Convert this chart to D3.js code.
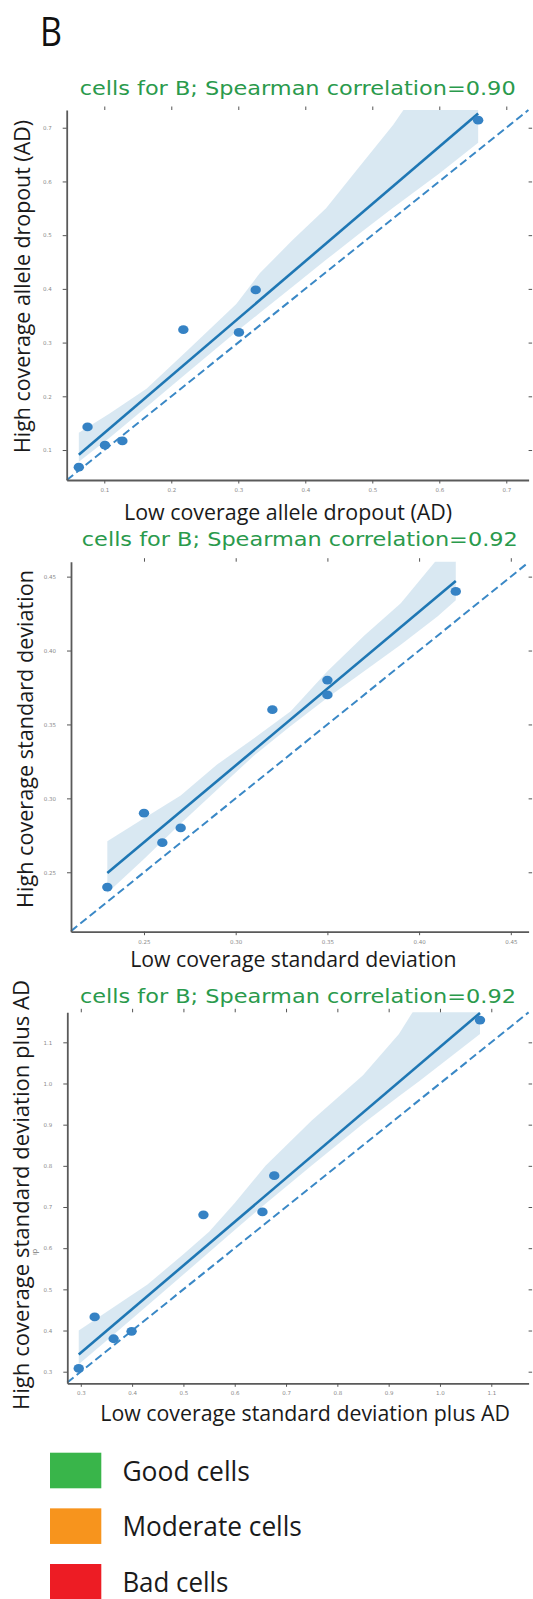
<!DOCTYPE html>
<html>
<head>
<meta charset="utf-8">
<script src="https://cdn.jsdelivr.net/npm/d3@7"></script>
<style>
  body { margin: 0; background: #fff; }
  svg { display: block; }
  .tick text { font-family: "DejaVu Sans", sans-serif; font-size: 5.5px; fill: #8a8a8a; }
  .tick line { stroke: #555; stroke-width: 1; }
  .domain { stroke: #5a5a5a; stroke-width: 1.8; }
</style>
</head>
<body>
<svg id="fig" width="533" height="1599"></svg>
<script>
/* Three low- vs high-coverage scatter panels (seaborn regplot look):
   points, OLS fit, bootstrap band, y=x dashed line. */

// ----- data -----
// panel 1: allele dropout
const p1X = [0.062, 0.075, 0.101, 0.127, 0.218, 0.301, 0.326, 0.658];
const p1Y = [0.068, 0.143, 0.109, 0.117, 0.324, 0.319, 0.398, 0.714];
const p1BandX  = [0.062, 0.108, 0.163, 0.222, 0.297, 0.332, 0.381, 0.431, 0.481, 0.531, 0.60, 0.658];
const p1BandHi = [0.132, 0.168, 0.214, 0.283, 0.372, 0.429, 0.491, 0.550, 0.628, 0.705, 0.83, 0.92];
const p1BandLo = [0.078, 0.123, 0.180, 0.242, 0.320, 0.355, 0.404, 0.454, 0.503, 0.551, 0.615, 0.672];
const p1Ticks = [0.1, 0.2, 0.3, 0.4, 0.5, 0.6, 0.7];

// panel 2: standard deviation
const p2X = [0.23, 0.25, 0.26, 0.27, 0.32, 0.35, 0.35, 0.42];
const p2Y = [0.24, 0.29, 0.27, 0.28, 0.36, 0.37, 0.38, 0.44];
const p2BandX  = [0.23, 0.25, 0.27, 0.29, 0.31, 0.33, 0.35, 0.37, 0.39, 0.41, 0.42];
const p2BandHi = [0.271, 0.2865, 0.302, 0.323, 0.3406, 0.359, 0.386, 0.410, 0.432, 0.462, 0.48];
const p2BandLo = [0.236, 0.259, 0.283, 0.306, 0.329, 0.349, 0.368, 0.386, 0.404, 0.423, 0.434];
const p2Ticks = [0.25, 0.30, 0.35, 0.40, 0.45];

// panel 3: standard deviation plus AD
const p3X = [0.296, 0.327, 0.364, 0.399, 0.539, 0.654, 0.677, 1.078];
const p3Y = [0.308, 0.433, 0.380, 0.398, 0.681, 0.688, 0.776, 1.154];
const p3BandX  = [0.296, 0.35, 0.43, 0.50, 0.55, 0.60, 0.66, 0.75, 0.85, 0.92, 0.96, 1.078];
const p3BandHi = [0.40, 0.445, 0.512, 0.585, 0.64, 0.71, 0.80, 0.91, 1.02, 1.12, 1.20, 1.35];
const p3BandLo = [0.318, 0.375, 0.461, 0.536, 0.590, 0.644, 0.708, 0.801, 0.902, 0.969, 1.006, 1.120];
const p3Ticks = [0.3, 0.4, 0.5, 0.6, 0.7, 0.8, 0.9, 1.0, 1.1];

const titles = [
  "cells for B; Spearman correlation=0.90",
  "cells for B; Spearman correlation=0.92",
  "cells for B; Spearman correlation=0.92",
];
const xLabels = [
  "Low coverage allele dropout (AD)",
  "Low coverage standard deviation",
  "Low coverage standard deviation plus AD",
];
const yLabels = [
  "High coverage allele dropout (AD)",
  "High coverage standard deviation",
  "High coverage standard deviation plus AD",
];
const legendLabels = ["Good cells", "Moderate cells", "Bad cells"];
const legendColors = ["#39b54a", "#f7941d", "#ed1c24"];

// ----- layout (px) -----
const panels = [
  { xs: p1X, ys: p1Y, bx: p1BandX, hi: p1BandHi, lo: p1BandLo, ticks: p1Ticks, fmt: ".1f",
    xDom: [0.0439, 0.7333], yDom: [0.0442, 0.733], L: 66.7, R: 528.6, T: 110, B: 480,
    titleY: 94.5, xlab: [288.1, 519.5, 328], ylab: [29.5, 286.5, 333] },
  { xs: p2X, ys: p2Y, bx: p2BandX, hi: p2BandHi, lo: p2BandLo, ticks: p2Ticks, fmt: ".2f",
    xDom: [0.2102, 0.4597], yDom: [0.2098, 0.4601], L: 71, R: 528.6, T: 561.7, B: 931.7,
    titleY: 546, xlab: [293.4, 967.3, 326.4], ylab: [33, 739, 338] },
  { xs: p3X, ys: p3Y, bx: p3BandX, hi: p3BandHi, lo: p3BandLo, ticks: p3Ticks, fmt: ".1f",
    xDom: [0.2737, 1.1727], yDom: [0.2718, 1.1729], L: 67.3, R: 528.6, T: 1012.3, B: 1383.3,
    titleY: 1003.3, xlab: [305.1, 1420.7, 409.7], ylab: [29, 1195, 430] },
];

const BLUE = "#1f77b4";
const svg = d3.select("#fig");
const defs = svg.append("defs");

function ols(xs, ys) {
  const mx = d3.mean(xs), my = d3.mean(ys);
  const sxy = d3.sum(xs, (v, i) => (v - mx) * (ys[i] - my));
  const sxx = d3.sum(xs, (v) => (v - mx) * (v - mx));
  const b = sxy / sxx;
  return { b, a: my - b * mx };
}

function fitText(sel, w) {
  sel.attr("textLength", w).attr("lengthAdjust", "spacingAndGlyphs");
}

panels.forEach((p, k) => {
  const x = d3.scaleLinear().domain(p.xDom).range([p.L, p.R]);
  const y = d3.scaleLinear().domain(p.yDom).range([p.B, p.T]);
  const g = svg.append("g");

  defs.append("clipPath").attr("id", "clip" + k).append("rect")
    .attr("x", p.L).attr("y", p.T).attr("width", p.R - p.L).attr("height", p.B - p.T);

  // confidence band
  const area = d3.area()
    .x((d, i) => x(p.bx[i]))
    .y0((d, i) => y(p.lo[i]))
    .y1((d, i) => y(p.hi[i]));
  g.append("path").attr("d", area(p.bx)).attr("clip-path", `url(#clip${k})`)
    .attr("fill", BLUE).attr("fill-opacity", 0.17);

  // y = x reference
  const lo = Math.max(p.xDom[0], p.yDom[0]), hi = Math.min(p.xDom[1], p.yDom[1]);
  g.append("line")
    .attr("x1", x(lo)).attr("y1", y(lo)).attr("x2", x(hi)).attr("y2", y(hi))
    .attr("stroke", "#3a88c6").attr("stroke-width", 2).attr("stroke-dasharray", "8,4");

  // regression line
  const fit = ols(p.xs, p.ys);
  const [x0, x1] = d3.extent(p.xs);
  g.append("line")
    .attr("x1", x(x0)).attr("y1", y(fit.a + fit.b * x0))
    .attr("x2", x(x1)).attr("y2", y(fit.a + fit.b * x1))
    .attr("stroke", BLUE).attr("stroke-width", 2.6);

  // points
  g.append("g").selectAll("ellipse").data(p.xs).join("ellipse")
    .attr("cx", (d) => x(d)).attr("cy", (d, i) => y(p.ys[i]))
    .attr("rx", 5.2).attr("ry", 4.4).attr("fill", "#3582c4");

  // axes: spines left + bottom, ticks on all four sides
  const fmt = d3.format(p.fmt);
  g.append("g").attr("transform", `translate(${p.L},0)`)
    .call(d3.axisLeft(y).tickValues(p.ticks).tickSize(4).tickPadding(11).tickSizeOuter(0).tickFormat(fmt));
  g.append("g").attr("transform", `translate(0,${p.B})`)
    .call(d3.axisBottom(x).tickValues(p.ticks).tickSize(3.5).tickPadding(4.5).tickSizeOuter(0).tickFormat(fmt));
  g.append("g").attr("transform", `translate(0,${p.T})`)
    .call(d3.axisTop(x).tickValues(p.ticks).tickSize(3.5).tickFormat(""))
    .call((a) => a.select(".domain").remove());
  g.append("g").attr("transform", `translate(${p.R},0)`)
    .call(d3.axisRight(y).tickValues(p.ticks).tickSize(3.5).tickFormat(""))
    .call((a) => a.select(".domain").remove());

  // title
  g.append("text").attr("x", (p.L + p.R) / 2).attr("y", p.titleY)
    .attr("text-anchor", "middle").attr("font-family", "DejaVu Sans, sans-serif")
    .attr("font-size", 19).attr("fill", "#2a9a4c").text(titles[k])
    .call(fitText, 436);

  // axis labels
  g.append("text").attr("x", p.xlab[0]).attr("y", p.xlab[1])
    .attr("text-anchor", "middle").attr("font-family", "Open Sans, sans-serif")
    .attr("font-size", 21).attr("fill", "#1a1a1a").text(xLabels[k])
    .call(fitText, p.xlab[2]);
  g.append("text").attr("transform", `translate(${p.ylab[0]},${p.ylab[1]}) rotate(-90)`)
    .attr("text-anchor", "middle").attr("font-family", "Open Sans, sans-serif")
    .attr("font-size", 21).attr("fill", "#1a1a1a").text(yLabels[k])
    .call(fitText, p.ylab[2]);
});

// stray mark inside the third y label
svg.append("text").attr("transform", "translate(37,1252) rotate(-90)")
  .attr("text-anchor", "middle").attr("font-family", "Open Sans, sans-serif")
  .attr("font-size", 7).attr("fill", "#777").text("ıp");

// panel letter
svg.append("text").attr("x", 40).attr("y", 46)
  .attr("font-family", "Open Sans, sans-serif").attr("font-size", 41).attr("fill", "#111")
  .text("B").call(fitText, 22);

// ----- legend -----
const ly = d3.scalePoint().domain(legendLabels).range([1452.7, 1564]);
const legW = [127.5, 179.5, 106];
const leg = svg.append("g");
leg.selectAll("rect").data(legendLabels).join("rect")
  .attr("x", 50).attr("y", (d) => ly(d)).attr("width", 51.3).attr("height", 35.6)
  .attr("fill", (d, i) => legendColors[i]);
leg.selectAll("text").data(legendLabels).join("text")
  .attr("x", 122.4).attr("y", (d) => ly(d) + 28)
  .attr("font-family", "Open Sans, sans-serif").attr("font-size", 28).attr("fill", "#1a1a1a")
  .text((d) => d)
  .each(function (d, i) { d3.select(this).call(fitText, legW[i]); });
</script>
</body>
</html>
